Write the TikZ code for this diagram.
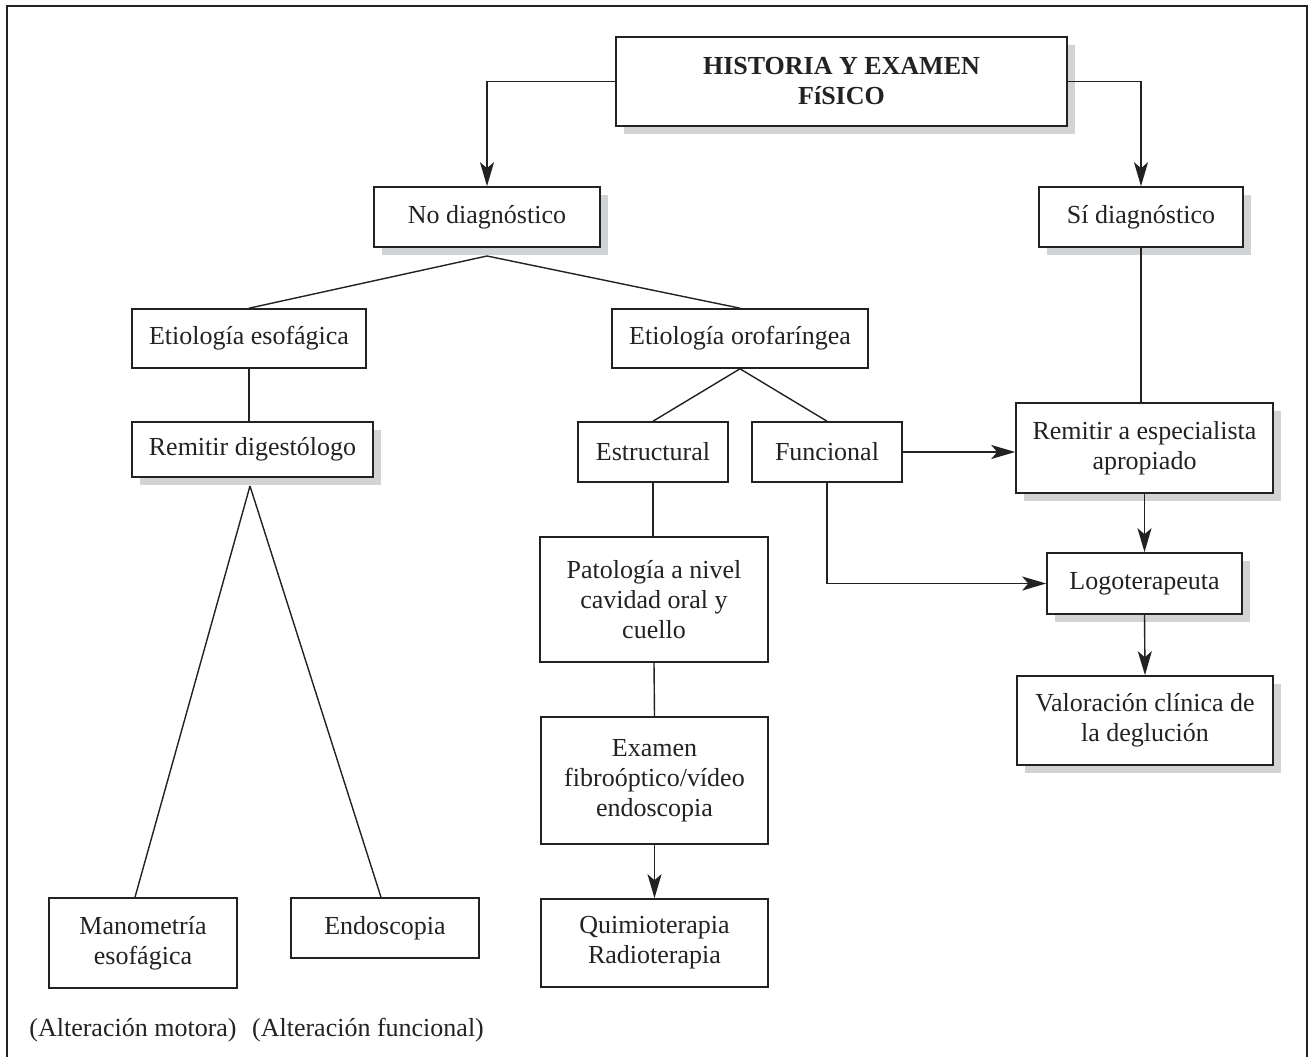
\documentclass[tikz,border=0pt]{standalone}
\usepackage{fontspec}
\setmainfont{Liberation Serif}
\usetikzlibrary{arrows.meta,shadows}
\definecolor{ink}{HTML}{222222}
\definecolor{shade}{HTML}{D2D3D5}
\begin{document}
\begin{tikzpicture}[x=1pt,y=-1pt,
  box/.style={draw=ink, line width=1.6pt, fill=white, align=center, inner sep=0pt,
    font=\fontsize{26}{30}\selectfont, text=ink},
  shbox/.style={box, drop shadow={shadow xshift=8pt, shadow yshift=-8pt, fill=shade, opacity=1}},
  conn/.style={draw=ink, line width=1.4pt},
  arr/.style={conn, -{Stealth[length=24pt,width=14pt,inset=6pt]}},
  lbl/.style={font=\fontsize{26}{30}\selectfont, text=ink, inner sep=0pt}]
\useasboundingbox (0,0) rectangle (1312,1057);
\fill[white] (0,0) rectangle (1312,1057);
\draw[draw=ink, line width=2pt] (7,1060) -- (7,6) -- (1307,6) -- (1307,1060);

% nodes
\node[shbox, minimum width=451pt, minimum height=89pt] (hist) at (841.5,81.5)
  {\bfseries HISTORIA Y EXAMEN\\\bfseries FíSICO};
\node[shbox, minimum width=226pt, minimum height=60pt] (nodiag) at (487,217) {No diagnóstico};
\node[shbox, minimum width=204pt, minimum height=60pt] (sidiag) at (1141,217) {Sí diagnóstico};
\node[box, minimum width=234pt, minimum height=59pt] (etesof) at (249,338.5) {Etiología esofágica};
\node[box, minimum width=256pt, minimum height=59pt] (etoro) at (740,338.5) {Etiología orofaríngea};
\node[box, minimum width=150pt, minimum height=60pt] (estr) at (653,452) {Estructural};
\node[box, minimum width=150pt, minimum height=60pt] (func) at (827,452) {Funcional};
\node[shbox, minimum width=257pt, minimum height=90pt] (remesp) at (1144.5,448) {Remitir a especialista\\apropiado};
\node[shbox, minimum width=195pt, minimum height=61pt] (logo) at (1144.5,583.5) {Logoterapeuta};
\node[shbox, minimum width=256pt, minimum height=89pt] (valor) at (1145,720.5) {Valoración clínica de\\la deglución};
\node[shbox, minimum width=241pt, minimum height=55pt] (remdig) at (252.5,449.5) {Remitir digestólogo};
\node[box, minimum width=228pt, minimum height=125pt] (pato) at (654,599.5) {Patología a nivel\\cavidad oral y\\cuello};
\node[box, minimum width=227pt, minimum height=127pt] (exam) at (654.5,780.5) {Examen\\fibroóptico/vídeo\\endoscopia};
\node[box, minimum width=227pt, minimum height=88pt] (quimio) at (654.5,943) {Quimioterapia\\Radioterapia};
\node[box, minimum width=188pt, minimum height=90pt] (mano) at (143,943) {Manometría\\esofágica};
\node[box, minimum width=188pt, minimum height=60pt] (endo) at (385,928) {Endoscopia};
\node[lbl] (altmot) at (133,1030) {(Alteración motora)};
\node[lbl] (altfun) at (368,1030) {(Alteración funcional)};

\coordinate (nd) at (487,256);
\coordinate (rd) at (250,486);

% connectors
\draw[arr] (hist.west) -| (nodiag.north);
\draw[arr] (hist.east) -| (sidiag.north);
\draw[conn] (nd) -- (etesof.north);
\draw[conn] (nd) -- (etoro.north);
\draw[conn] (etoro.south) -- (estr.north);
\draw[conn] (etoro.south) -- (func.north);
\draw[arr] (func.east) -- (func.east -| remesp.west);
\draw[conn] (sidiag.south) -- (sidiag.south |- remesp.north);
\draw[arr] (remesp.south) -- (logo.north);
\draw[arr] (func.south) |- (logo.west);
\draw[arr] (logo.south) -- (valor.north);
\draw[conn] (etesof.south) -- (remdig.north -| etesof.south);
\draw[conn] (rd) -- ([xshift=-8pt]mano.north);
\draw[conn] (rd) -- ([xshift=-4pt]endo.north);
\draw[conn] (estr.south) -- (pato.north -| estr.south);
\draw[conn] (pato.south) -- (exam.north);
\draw[arr] (exam.south) -- (quimio.north);
\end{tikzpicture}
\end{document}
